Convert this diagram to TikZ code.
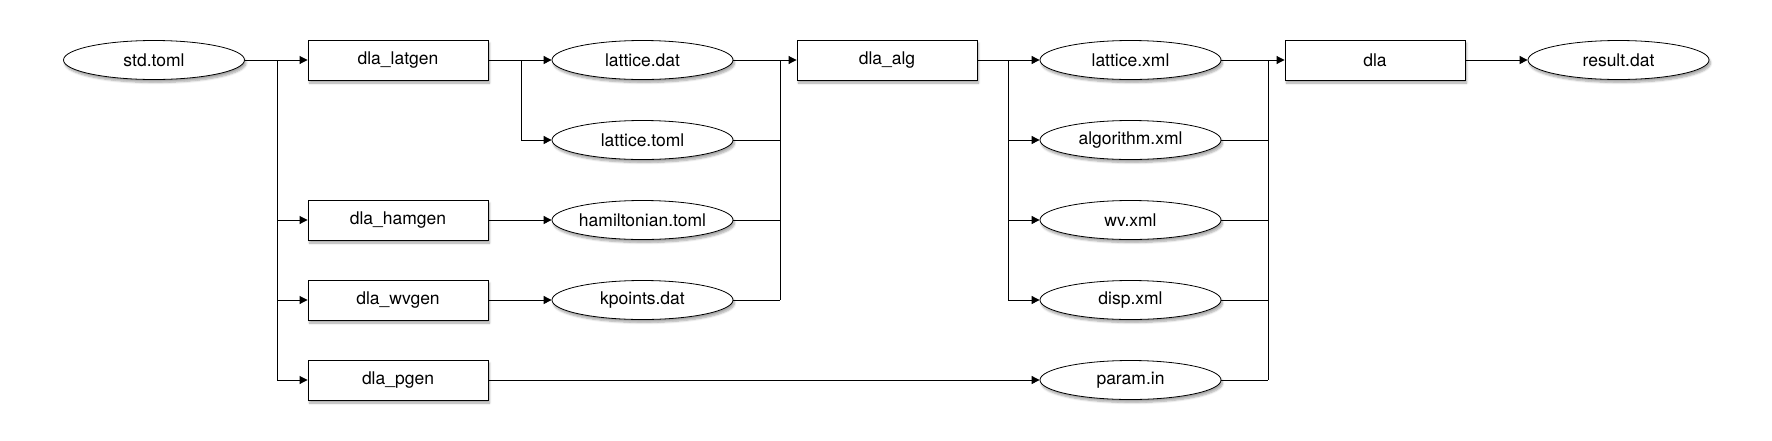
\documentclass[tikz,border=0pt]{standalone}
\usepackage{fontspec}
\setmainfont{TeX Gyre Heros}
\usetikzlibrary{arrows.meta,shapes.geometric,shadows.blur}
\begin{document}
\begin{tikzpicture}[x=1pt,y=-1pt,
  every node/.style={font=\fontsize{17.5}{20}\selectfont, inner sep=0pt},
  proc/.style={draw, line width=0.9pt, fill=white, minimum width=180pt, minimum height=40pt,
    blur shadow={shadow xshift=1.5pt, shadow yshift=-3pt, shadow blur steps=6, shadow opacity=35}},
  file/.style={draw, line width=0.8pt, ellipse, fill=white, minimum width=181pt, minimum height=39pt,
    blur shadow={shadow xshift=1.5pt, shadow yshift=-3pt, shadow blur steps=6, shadow opacity=35}},
  conn/.style={line width=0.9pt},
  arr/.style={conn, -{Triangle[length=8pt,width=8pt]}}
]
\useasboundingbox (0,0) rectangle (1772,440);
% column 0
\node[file] (std) at (154,60) {std.toml};
% generators
\node[proc] (latgen) at (398,60) {dla\_latgen};
\node[proc] (hamgen) at (398,220) {dla\_hamgen};
\node[proc] (wvgen) at (398,300) {dla\_wvgen};
\node[proc] (pgen) at (398,380) {dla\_pgen};
% generated files
\node[file] (latdat) at (642.5,60) {lattice.dat};
\node[file] (lattoml) at (642.5,140) {lattice.toml};
\node[file] (ham) at (642.5,220) {hamiltonian.toml};
\node[file] (kp) at (642.5,300) {kpoints.dat};
% alg
\node[proc] (alg) at (887,60) {dla\_alg};
% xml files
\node[file] (latxml) at (1130.5,60) {lattice.xml};
\node[file] (algxml) at (1130.5,140) {algorithm.xml};
\node[file] (wvxml) at (1130.5,220) {wv.xml};
\node[file] (dispxml) at (1130.5,300) {disp.xml};
\node[file] (param) at (1130.5,380) {param.in};
% dla
\node[proc] (dla) at (1375,60) {dla};
\node[file] (res) at (1618.5,60) {result.dat};

% junction coordinates
\coordinate (t0) at (277,60);
\coordinate (t1) at (277,380);
\coordinate (s0) at (521,60);
\coordinate (s1) at (521,140);
\coordinate (m0) at (780,60);
\coordinate (m1) at (780,300);
\coordinate (u0) at (1008,60);
\coordinate (u1) at (1008,300);
\coordinate (v0) at (1268,60);
\coordinate (v1) at (1268,380);

% std.toml -> generators
\draw[arr] (std.east) -- (latgen.west);
\draw[conn] (t0) -- (t1);
\draw[arr] (t1 |- hamgen.west) -- (hamgen.west);
\draw[arr] (t1 |- wvgen.west) -- (wvgen.west);
\draw[arr] (t1) -- (pgen.west);
% latgen outputs
\draw[arr] (latgen.east) -- (latdat.west);
\draw[conn] (s0) -- (s1);
\draw[arr] (s1) -- (lattoml.west);
\draw[arr] (hamgen.east) -- (ham.west);
\draw[arr] (wvgen.east) -- (kp.west);
\draw[arr] (pgen.east) -- (param.west);
% merge into dla_alg
\draw[arr] (latdat.east) -- (alg.west);
\draw[conn] (m0) -- (m1);
\draw[conn] (lattoml.east) -- (m0 |- lattoml.east);
\draw[conn] (ham.east) -- (m0 |- ham.east);
\draw[conn] (kp.east) -- (m1);
% dla_alg outputs
\draw[arr] (alg.east) -- (latxml.west);
\draw[conn] (u0) -- (u1);
\draw[arr] (u0 |- algxml.west) -- (algxml.west);
\draw[arr] (u0 |- wvxml.west) -- (wvxml.west);
\draw[arr] (u1) -- (dispxml.west);
% merge into dla
\draw[arr] (latxml.east) -- (dla.west);
\draw[conn] (v0) -- (v1);
\draw[conn] (algxml.east) -- (v0 |- algxml.east);
\draw[conn] (wvxml.east) -- (v0 |- wvxml.east);
\draw[conn] (dispxml.east) -- (v0 |- dispxml.east);
\draw[conn] (param.east) -- (v1);
% result
\draw[arr] (dla.east) -- (res.west);
\end{tikzpicture}
\end{document}
